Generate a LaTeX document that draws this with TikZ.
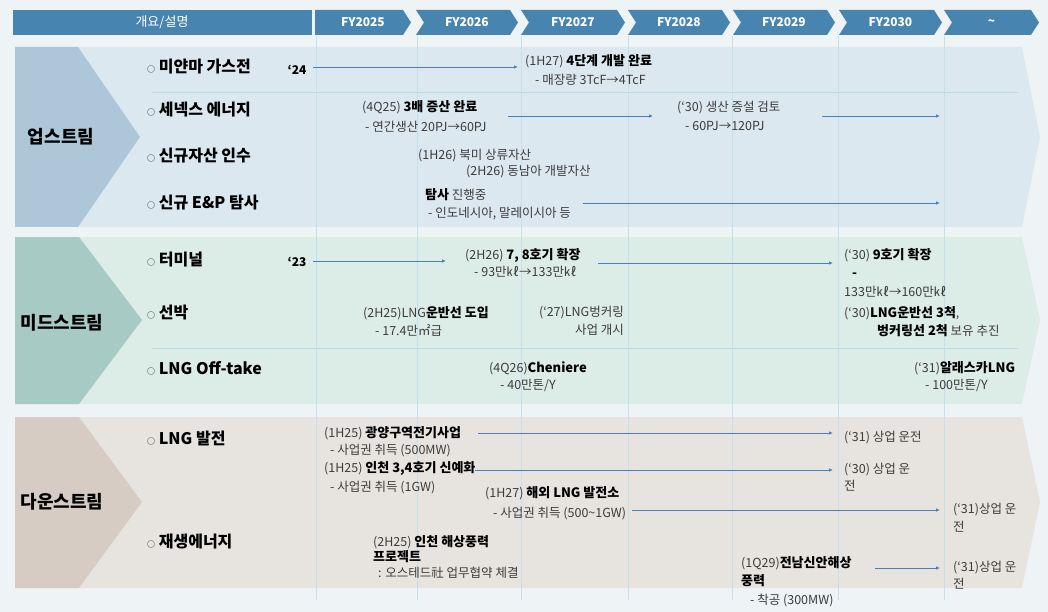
\documentclass[tikz,border=0pt]{standalone}
\usepackage{fontspec}
\setmainfont{Noto Sans CJK KR}
\usetikzlibrary{arrows.meta}

\definecolor{pagebg}{HTML}{EEF3F6}
\definecolor{hdr}{HTML}{4784AF}
\definecolor{upbg}{HTML}{DCE8F0}
\definecolor{updark}{HTML}{ADC7D8}
\definecolor{midbg}{HTML}{DCECE6}
\definecolor{middark}{HTML}{A8CAC4}
\definecolor{dnbg}{HTML}{E7E4DF}
\definecolor{dndark}{HTML}{D6CCC4}
\definecolor{gridc}{HTML}{C6DFEA}
\definecolor{sepc}{HTML}{BDD9E6}
\definecolor{arrowc}{HTML}{4A7EBF}
\definecolor{txtc}{HTML}{3C3C3C}

% bold item text, a little wider like the original
\newcommand\bt[1]{{\fontsize{13}{13}\selectfont\bfseries\color{black}#1}}

\begin{document}
\begin{tikzpicture}[x=1pt, y=-1pt,
  hdrtext/.style={text=white, font=\fontsize{12}{14}\selectfont\bfseries},
  bandtext/.style={font=\fontsize{18}{20}\selectfont\bfseries},
  row/.style={anchor=west, inner sep=0pt, font=\fontsize{16}{18}\selectfont\bfseries},
  txt/.style={anchor=north west, inner sep=0pt, align=left, text=txtc, font=\fontsize{12.5}{18}\selectfont},
  arr/.style={draw=arrowc, line width=0.9pt, -{Latex[length=4pt,width=3.5pt]}},
  sep/.style={draw=sepc, line width=0.8pt}]

\useasboundingbox (0,0) rectangle (1048,612);
\fill[pagebg] (0,0) rectangle (1048,612);

% header
\fill[hdr] (13,10) rectangle (312,35);
\node[hdrtext, font=\fontsize{13}{14}\selectfont] (intro) at (162,22.5) {개요/설명};
\foreach \a/\b/\n/\yr [count=\i] in {315/411/0/FY2025, 416/518/8/FY2026, 521/625/8/FY2027,
    628/730/8/FY2028, 733/835/8/FY2029, 839/942/8/FY2030, 944/1039/8/\textasciitilde} {
  \fill[hdr] (\a,10) -- (\b-8,10) -- (\b,22.5) -- (\b-8,35) -- (\a,35) -- (\a+\n,22.5) -- cycle;
  \node[hdrtext] (fy\i) at ({(\a+\b)/2},22.5) {\yr};
}

% bands
\fill[upbg] (15,47) -- (1022,47) -- (1040,137) -- (1022,227) -- (15,227) -- cycle;
\fill[updark] (15,47) -- (78,47) -- (140,137) -- (78,227) -- (15,227) -- cycle;
\fill[midbg] (15,237) -- (1022,237) -- (1040,320) -- (1022,404) -- (15,404) -- cycle;
\fill[middark] (15,237) -- (79,237) -- (142,320) -- (79,404) -- (15,404) -- cycle;
\fill[dnbg] (15,417) -- (1022,417) -- (1040,502) -- (1022,588) -- (15,588) -- cycle;
\fill[dndark] (15,417) -- (79,417) -- (142,502) -- (79,588) -- (15,588) -- cycle;

\foreach \x in {316,417,521,628,732,838,944}
  \draw[gridc, line width=0.6pt] (\x,36) -- (\x,600);

\draw[sep] (152,92) -- (1018,92);
\draw[sep] (152,348) -- (1018,348);

\node[bandtext] (up) at (61,137) {업스트림};
\node[bandtext] (mid) at (62,323) {미드스트림};
\node[bandtext] (down) at (62,502) {다운스트림};

% rows
\foreach \nm/\yy/\lbl in {myanmar/67/미얀마 가스전, senex/110/세넥스 에너지, newasset/156/신규자산 인수,
    newep/203/신규 E\&P 탐사, terminal/260/터미널, ship/313/선박, offtake/368/LNG Off-take,
    power/438/LNG 발전, renew/542/재생에너지}
  \node[row] (r-\nm) at (147,\yy) {{\mdseries\fontsize{8}{8}\selectfont ○}\ \lbl};

% upstream
\node[font=\fontsize{12}{14}\selectfont\bfseries] (y24) at (297,70) {‘24};
\node[txt, font=\fontsize{12.5}{19}\selectfont] (myan) at (525,54) {(1H27) \bt{4단계 개발 완료}\\\hspace*{10pt}- 매장량 3TcF→4TcF};
\node[txt, font=\fontsize{12.5}{20}\selectfont] (senex1) at (362,100) {(4Q25) \bt{3배 증산 완료}\\\hspace*{3pt}- 연간생산 20PJ→60PJ};
\node[txt, font=\fontsize{12.5}{19}\selectfont] (senex2) at (677,101) {(‘30) 생산 증설 검토\\\hspace*{8pt}- 60PJ→120PJ};
\node[txt] (acq1) at (418,149) {(1H26) 북미 상류자산};
\node[txt] (acq2) at (466,165) {(2H26) 동남아 개발자산};
\node[txt] (ep) at (425,188) {\bt{탐사} 진행중\\\hspace*{3pt}- 인도네시아, 말레이시아 등};

% midstream
\node[font=\fontsize{12}{14}\selectfont\bfseries] (y23) at (297,262) {‘23};
\node[txt, font=\fontsize{12.5}{17}\selectfont] (term1) at (465,248) {(2H26) \bt{7, 8호기 확장}\\\hspace*{9pt}- 93만㎘→133만㎘};
\node[txt, font=\fontsize{12.5}{18.5}\selectfont] (term2) at (844,248) {(‘30) \bt{9호기 확장}\\\hspace*{8pt}\bt{-}\\133만㎘→160만㎘};
\node[txt] (ship1) at (363,306) {(2H25)LNG\bt{운반선 도입}\\\hspace*{12pt}- 17.4만㎡급};
\node[txt, anchor=north east, align=right] (ship2) at (624,306) {(‘27)LNG벙커링\\사업 개시};
\node[txt] (ship3) at (844,306) {(‘30)\bt{LNG운반선 3척},\\\hspace*{33pt}\bt{벙커링선 2척} 보유 추진};
\node[txt, font=\fontsize{12.5}{17}\selectfont] (off1) at (489,361) {(4Q26)\bt{Cheniere}\\\hspace*{11pt}- 40만톤/Y};
\node[txt, font=\fontsize{12.5}{17}\selectfont] (off2) at (914,361) {(‘31)\bt{알래스카LNG}\\\hspace*{11pt}- 100만톤/Y};

% downstream
\node[txt, font=\fontsize{12.5}{17}\selectfont] (gw) at (324,426) {(1H25) \bt{광양구역전기사업}\\\hspace*{6pt}- 사업권 취득 (500MW)};
\node[txt] (gwend) at (844,431) {(‘31) 상업 운전};
\node[txt, font=\fontsize{12.5}{19}\selectfont] (ic) at (324,461) {(1H25) \bt{인천 3,4호기 신예화}\\\hspace*{6pt}- 사업권 취득 (1GW)};
\node[txt, font=\fontsize{12.5}{17}\selectfont] (icend) at (844,463) {(‘30) 상업 운\\전};
\node[txt, font=\fontsize{12.5}{20}\selectfont] (ovs) at (485,486) {(1H27) \bt{해외 LNG 발전소}\\\hspace*{8pt}- 사업권 취득 (500\textasciitilde 1GW)};
\node[txt] (ovsend) at (953,503) {(‘31)상업 운\\전};
\node[txt, font=\fontsize{12.5}{15.5}\selectfont] (wind1) at (373,535) {(2H25) \bt{인천 해상풍력}\\\bt{프로젝트}\\\hspace*{5pt}: 오스테드社 업무협약 체결};
\node[txt, font=\fontsize{12.5}{18.5}\selectfont] (wind2) at (741,556) {(1Q29)\bt{전남신안해상}\\\bt{풍력}\\\hspace*{9pt}- 착공 (300MW)};
\node[txt, font=\fontsize{12.5}{17}\selectfont] (wind2end) at (953,561) {(‘31)상업 운\\전};

% arrows
\foreach \nm/\xa/\xb/\yy in {myan/313/518/67, senexa/508/653/116, senexb/822/940/116, ep/583/940/203,
    terma/313/446/261, termb/598/833/263, gw/478/833/433, ic/475/833/470, ovs/632/940/510, wind/875/940/568} {
  \coordinate (\nm-s) at (\xa,\yy);
  \coordinate (\nm-e) at (\xb,\yy);
  \draw[arr] (\nm-s) -- (\nm-e);
}
\end{tikzpicture}
\end{document}
